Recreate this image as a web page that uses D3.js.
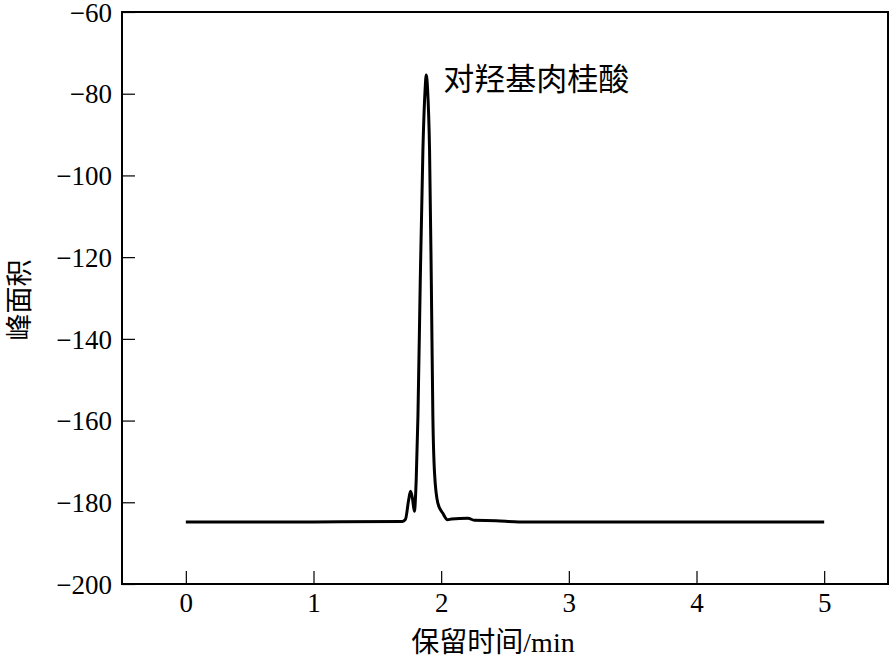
<!DOCTYPE html>
<html>
<head>
<meta charset="utf-8">
<script src="https://cdn.jsdelivr.net/npm/d3@7"></script>
<style>
  body { margin: 0; background: #fff; }
  svg { display: block; }
</style>
</head>
<body>
<div id="chart"></div>
<script>
// retention time (min) and peak area
const times = [0, 1.0, 1.696, 1.72, 1.745, 1.76, 1.775, 1.79, 1.805, 1.818, 1.836, 1.857, 1.874, 1.883,
  1.894, 1.909, 1.923, 1.935, 1.948, 1.974, 2.013, 2.05, 2.08, 2.21, 2.26, 2.43, 2.61, 3.5, 5.0];
const areas = [-184.8, -184.8, -184.7, -184.2, -179.5, -177.3, -179.0, -182.2, -174.0, -159.0, -126.3, -93.8, -79.1, -75.4,
  -79.1, -93.8, -126.3, -159.0, -172.8, -180.2, -182.7, -184.3, -184.1, -183.9, -184.4, -184.5, -184.8, -184.8, -184.8];
const xTicks = [0, 1, 2, 3, 4, 5];
const yTicks = [-200, -180, -160, -140, -120, -100, -80, -60];
const peakLabel = "对羟基肉桂酸";

const data = times.map((t, i) => ({ t: t, v: areas[i] }));

const W = 890, H = 662;
const margin = { top: 12, right: 2, bottom: 78, left: 122 };
const width = W - margin.left - margin.right,
  height = H - margin.top - margin.bottom;

const svg = d3.select("#chart").append("svg")
  .attr("width", W).attr("height", H);
const g = svg.append("g")
  .attr("transform", `translate(${margin.left},${margin.top})`);

const x = d3.scaleLinear().domain([-0.5, 5.5]).range([0, width]);
const y = d3.scaleLinear().domain([-200, -60]).range([height, 0]);

const numFont = "'Liberation Serif', 'Times New Roman', serif";
const cjkFont = "'Noto Sans CJK SC', sans-serif";

// x axis, ticks pointing inward
const xAxis = g.append("g")
  .attr("transform", `translate(0,${height})`)
  .call(d3.axisBottom(x).tickValues(xTicks).tickSize(-13).tickPadding(9).tickFormat(d3.format("d")));
xAxis.select(".domain").remove();
xAxis.selectAll(".tick line").attr("stroke", "#000").attr("stroke-width", 1.2);
xAxis.selectAll("text").attr("font-family", numFont).attr("font-size", 27).attr("fill", "#000");

// y axis
const yAxis = g.append("g")
  .call(d3.axisLeft(y).tickValues(yTicks).tickSize(-13).tickPadding(10).tickFormat(d => "\u2212" + Math.abs(d)));
yAxis.select(".domain").remove();
yAxis.selectAll(".tick line").attr("stroke", "#000").attr("stroke-width", 1.2);
yAxis.selectAll("text").attr("font-family", numFont).attr("font-size", 27).attr("fill", "#000")
  .attr("dy", "0.34em");

// frame
g.append("rect")
  .attr("x", 0).attr("y", 0)
  .attr("width", width).attr("height", height)
  .attr("fill", "none").attr("stroke", "#000").attr("stroke-width", 2);

// chromatogram line
const line = d3.line()
  .x(d => x(d.t))
  .y(d => y(d.v))
  .curve(d3.curveMonotoneX);
g.append("path")
  .datum(data)
  .attr("d", line)
  .attr("fill", "none")
  .attr("stroke", "#000")
  .attr("stroke-width", 3)
  .attr("stroke-linejoin", "round");

// peak label
g.append("text")
  .attr("x", x(1.883) + 17)
  .attr("y", y(-75.4) + 15)
  .attr("font-family", cjkFont)
  .attr("font-size", 31)
  .attr("fill", "#000")
  .text(peakLabel);

// axis titles
svg.append("text")
  .attr("x", margin.left + width / 2 - 12)
  .attr("y", H - 10)
  .attr("text-anchor", "middle")
  .attr("font-size", 28)
  .attr("fill", "#000")
  .call(t => {
    t.append("tspan").attr("font-family", cjkFont).text("保留时间");
    t.append("tspan").attr("font-family", numFont).text("/min");
  });

svg.append("text")
  .attr("transform", `translate(29,${300}) rotate(-90)`)
  .attr("text-anchor", "middle")
  .attr("font-family", cjkFont)
  .attr("font-size", 27)
  .attr("fill", "#000")
  .text("峰面积");
</script>
</body>
</html>
